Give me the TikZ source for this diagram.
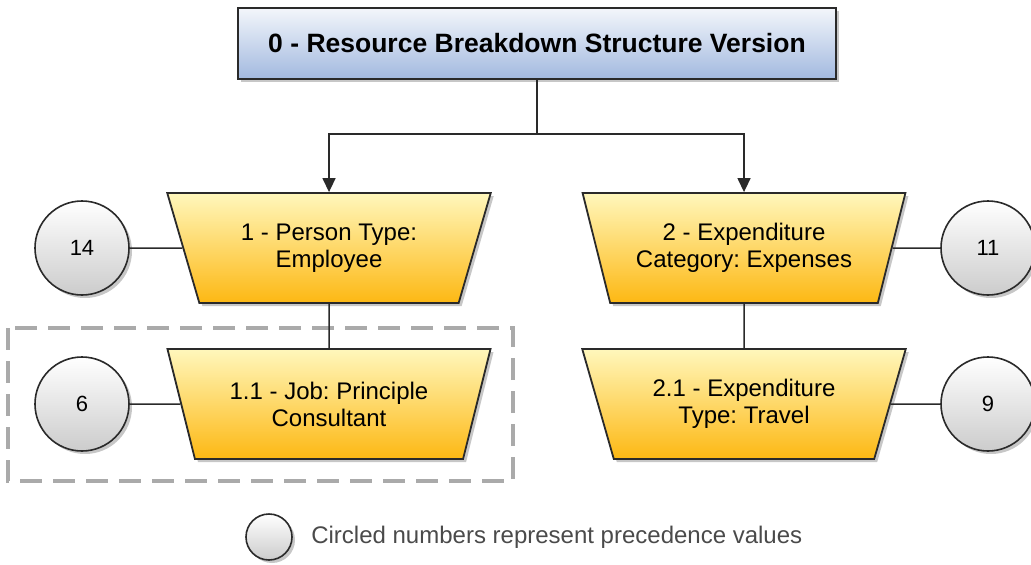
\documentclass[tikz,border=0pt]{standalone}
\usepackage{fontspec}
\setmainfont{Liberation Sans}
\usepackage{xcolor}
\usetikzlibrary{shapes,arrows.meta,positioning,calc,shadows}
\frenchspacing

\definecolor{rbstop}{HTML}{F3F6FB}
\definecolor{rbsbottom}{HTML}{A2B9DF}
\definecolor{elemtop}{HTML}{FFF7BC}
\definecolor{elembottom}{HTML}{FDB813}
\definecolor{precbottom}{HTML}{CCCCCC}
\definecolor{edgeline}{HTML}{2A2A2A}
\definecolor{groupline}{HTML}{AAAAAA}
\definecolor{keytext}{HTML}{4A4A4A}

\tikzset{
    softshadow/.style={drop shadow={shadow xshift=3pt, shadow yshift=-3pt, opacity=0.22, fill=black}},
    rbsbox/.style={draw=edgeline, line width=1.8pt, top color=rbstop, bottom color=rbsbottom,
        minimum width=598pt, minimum height=71pt, font=\fontsize{26.5}{30}\selectfont\bfseries, softshadow},
    elembox/.style={trapezium, trapezium left angle=112.3, trapezium right angle=112.3,
        trapezium stretches=true, minimum width=324pt, minimum height=110pt,
        draw=edgeline, line width=1.8pt, top color=elemtop, bottom color=elembottom,
        align=center, font=\fontsize{24}{27}\selectfont, softshadow},
    prec/.style={circle, minimum size=94pt, inner sep=0pt, draw=edgeline, line width=1.6pt,
        top color=white, bottom color=precbottom, font=\fontsize{22}{26}\selectfont, softshadow},
    link/.style={draw=edgeline, line width=1.5pt},
    arrow/.style={link, -{Triangle[length=14pt,width=13pt]}},
    group/.style={draw=groupline, line width=3.5pt, dash pattern=on 22pt off 11pt}
}

\begin{document}
\begin{tikzpicture}[x=1pt,y=-1pt]
    \useasboundingbox (0,0) rectangle (1031,565);

    \draw[group] (8,328) rectangle (513,481);

    \node[rbsbox] (rbs) at (537,43.5) {0 - Resource Breakdown Structure Version};

    \node[elembox] (person) at (329,248) {1 - Person Type:\\Employee};
    \node[elembox] (job) at (329,404) {1.1 - Job: Principle\\Consultant};
    \node[elembox] (category) at (744,248) {2 - Expenditure\\Category: Expenses};
    \node[elembox] (exptype) at (744,404) {2.1 - Expenditure\\Type: Travel};

    \node[prec] (p14) at (82,248) {14};
    \node[prec] (p6) at (82,404) {6};
    \node[prec] (p11) at (988,248) {11};
    \node[prec] (p9) at (988,404) {9};

    \coordinate (split) at (537,134);
    \draw[link] (rbs.south) -- (split);
    \draw[arrow] (split) -| (person.north);
    \draw[arrow] (split) -| (category.north);
    \draw[link] (person.south) -- (job.north);
    \draw[link] (category.south) -- (exptype.north);

    \draw[link] (p14.east) -- (person.west);
    \draw[link] (p6.east) -- (job.west);
    \draw[link] (category.east) -- (p11.west);
    \draw[link] (exptype.east) -- (p9.west);

    % legend
    \node[prec, minimum size=46pt] (key) at (269,537) {};
    \node[right=15pt of key, text=keytext, font=\fontsize{24}{28}\selectfont] (keylabel) {Circled numbers represent precedence values};
\end{tikzpicture}
\end{document}
